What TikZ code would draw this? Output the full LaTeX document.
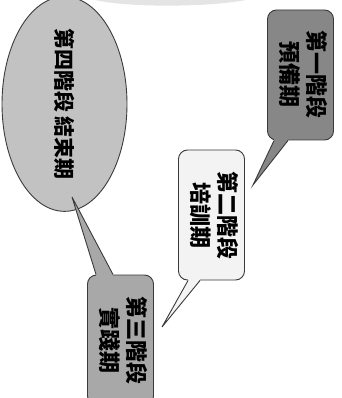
\documentclass[tikz,border=0pt]{standalone}
\usepackage{fontspec}
\usepackage{graphicx}
\newfontfamily\cjk{Noto Sans CJK TC}
\usetikzlibrary{calc,shapes.geometric}
\definecolor{darkbox}{HTML}{878787}
\definecolor{midbox}{HTML}{A8A8A8}
\definecolor{lightbox}{HTML}{F3F3F3}
\definecolor{ellfill}{HTML}{C2C2C2}
\definecolor{edge}{HTML}{3A3A3A}
\definecolor{haze}{HTML}{E4E4E4}
\newcommand{\vtxt}[1]{\rotatebox{-90}{\cjk\bfseries\fontsize{22}{27}\selectfont\begin{tabular}{@{}c@{}}#1\end{tabular}}}
\tikzset{
  bubble/.style={draw=edge, line width=0.9pt, rounded corners=9pt, inner sep=0pt,
    minimum width=66pt, minimum height=130pt},
  oval/.style={ellipse, draw=edge, line width=0.9pt, fill=ellfill, inner sep=0pt,
    minimum width=125pt, minimum height=182pt},
  tailline/.style={draw=edge, line width=0.9pt, line join=miter},
}
\begin{document}
\begin{tikzpicture}[x=1pt,y=-1pt]
  \path[use as bounding box] (0,0) rectangle (341,398);
  \clip (0,0) rectangle (341,398);
  % faint shape at the top edge
  \fill[haze] (95,0) .. controls (130,8) and (210,7) .. (246,0) -- cycle;

  % bubbles
  \node[bubble, fill=darkbox] (b1) at (300.5,75) {\vtxt{第一階段\\預備期}};
  \node[bubble, fill=lightbox] (b2) at (211.5,215) {\vtxt{第二階段\\培訓期}};
  \node[bubble, fill=midbox] (b3) at (120.5,340) {\vtxt{第三階段\\實踐期}};
  \node[oval] (e4) at (64.5,104) {\rotatebox{-90}{\cjk\bfseries\fontsize{21}{25}\selectfont 第四階段 結束期}};

  % tips of the pointers
  \coordinate (t1) at (253,185);
  \coordinate (t2) at (162,327);
  \coordinate (t3) at (72,197);

  % pointer of bubble 1
  \coordinate (a1) at ($(b1.south west)+(7,0)$);
  \coordinate (c1) at ($(b1.south west)+(21,0)$);
  \fill[darkbox] (a1) -- (t1) -- (c1) -- ($(c1)+(0,-3)$) -- ($(a1)+(0,-3)$) -- cycle;
  \draw[tailline] (a1) -- (t1) -- (c1);

  % pointer of bubble 2
  \coordinate (a2) at ($(b2.south west)+(10,0)$);
  \coordinate (c2) at ($(b2.south west)+(22,0)$);
  \fill[lightbox] (a2) -- (t2) -- (c2) -- ($(c2)+(0,-3)$) -- ($(a2)+(0,-3)$) -- cycle;
  \draw[tailline] (a2) -- (t2) -- (c2);

  % pointer of bubble 3
  \coordinate (a3) at ($(b3.north west)+(9,0)$);
  \coordinate (c3) at ($(b3.north west)+(26,0)$);
  \fill[midbox] (a3) -- (t3) -- (c3) -- ($(c3)+(0,3)$) -- ($(a3)+(0,3)$) -- cycle;
  \draw[tailline] (a3) -- (t3) -- (c3);
\end{tikzpicture}
\end{document}
